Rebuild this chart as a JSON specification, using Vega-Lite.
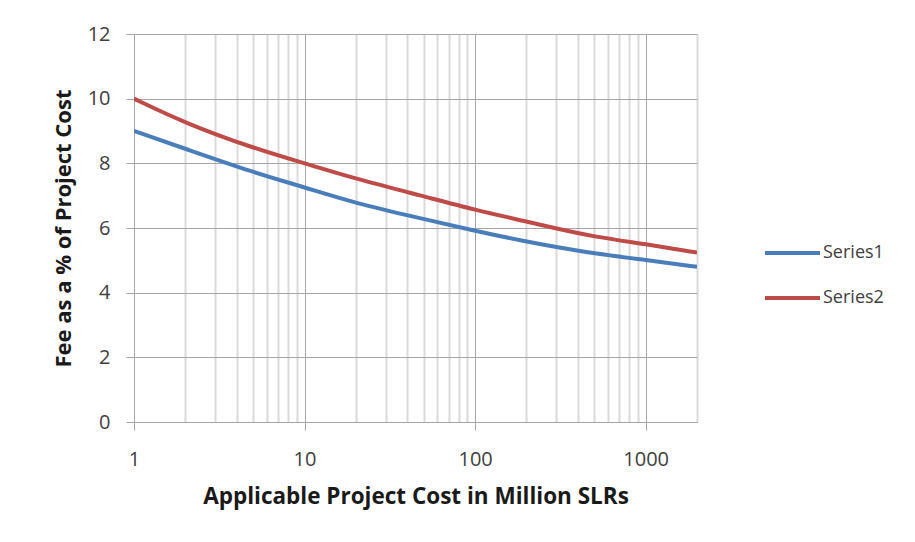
{
  "$schema": "https://vega.github.io/schema/vega-lite/v6.json",
  "width": 563,
  "height": 388,
  "autosize": {"type": "none"},
  "padding": {"left": 134, "top": 34, "right": 218, "bottom": 120},
  "background": "white",
  "config": {"view": {"stroke": null}, "font": "Open Sans"},
  "data": {
    "values": [
      {"cost": 1, "fee": 9.0, "series": "Series1"},
      {"cost": 2, "fee": 8.45, "series": "Series1"},
      {"cost": 5, "fee": 7.72, "series": "Series1"},
      {"cost": 10, "fee": 7.26, "series": "Series1"},
      {"cost": 20, "fee": 6.76, "series": "Series1"},
      {"cost": 50, "fee": 6.28, "series": "Series1"},
      {"cost": 100, "fee": 5.91, "series": "Series1"},
      {"cost": 200, "fee": 5.58, "series": "Series1"},
      {"cost": 300, "fee": 5.41, "series": "Series1"},
      {"cost": 500, "fee": 5.21, "series": "Series1"},
      {"cost": 1000, "fee": 5.01, "series": "Series1"},
      {"cost": 2000, "fee": 4.8, "series": "Series1"},
      {"cost": 1, "fee": 10.0, "series": "Series2"},
      {"cost": 2, "fee": 9.24, "series": "Series2"},
      {"cost": 5, "fee": 8.47, "series": "Series2"},
      {"cost": 10, "fee": 8.0, "series": "Series2"},
      {"cost": 20, "fee": 7.52, "series": "Series2"},
      {"cost": 50, "fee": 6.98, "series": "Series2"},
      {"cost": 100, "fee": 6.56, "series": "Series2"},
      {"cost": 200, "fee": 6.2, "series": "Series2"},
      {"cost": 300, "fee": 5.98, "series": "Series2"},
      {"cost": 500, "fee": 5.73, "series": "Series2"},
      {"cost": 1000, "fee": 5.5, "series": "Series2"},
      {"cost": 2000, "fee": 5.24, "series": "Series2"}
    ]
  },
  "mark": {"type": "line", "strokeWidth": 4, "interpolate": "basis", "clip": true},
  "encoding": {
    "x": {
      "field": "cost",
      "type": "quantitative",
      "scale": {"type": "log", "domain": [1, 2000], "nice": false},
      "axis": {
        "title": "Applicable Project Cost in Million SLRs",
        "values": [1, 2, 3, 4, 5, 6, 7, 8, 9, 10, 20, 30, 40, 50, 60, 70, 80, 90, 100, 200, 300, 400, 500, 600, 700, 800, 900, 1000, 2000],
        "labelExpr": "(datum.value == 1 || datum.value == 10 || datum.value == 100 || datum.value == 1000) ? toString(datum.value) : ''",
        "gridColor": {"condition": {"test": "datum.value == 1 || datum.value == 10 || datum.value == 100 || datum.value == 1000", "value": "#a6a6a6"}, "value": "#dadada"},
        "gridWidth": {"condition": {"test": "datum.value == 1 || datum.value == 10 || datum.value == 100 || datum.value == 1000", "value": 1}, "value": 2},
        "tickOpacity": {"condition": {"test": "datum.value == 1 || datum.value == 10 || datum.value == 100 || datum.value == 1000", "value": 1}, "value": 0},
        "tickColor": "#a6a6a6",
        "tickSize": 8,
        "domainColor": "#a6a6a6",
        "labelFontSize": 20,
        "labelColor": "#404040",
        "labelPadding": 19,
        "labelFlush": false,
        "labelOverlap": false,
        "titleFontSize": 22.5,
        "titleFontWeight": "bold",
        "titleColor": "#1a1a1a",
        "titlePadding": 16
      }
    },
    "y": {
      "field": "fee",
      "type": "quantitative",
      "scale": {"domain": [0, 12], "nice": false, "zero": true},
      "axis": {
        "title": "Fee as a % of Project Cost",
        "values": [0, 2, 4, 6, 8, 10, 12],
        "gridColor": "#a6a6a6",
        "tickColor": "#a6a6a6",
        "tickSize": 8,
        "domainColor": "#a6a6a6",
        "labelFontSize": 20,
        "labelColor": "#404040",
        "labelPadding": 16,
        "titleFontSize": 22,
        "titleFontWeight": "bold",
        "titleColor": "#1a1a1a",
        "titlePadding": 12
      }
    },
    "color": {
      "field": "series",
      "type": "nominal",
      "scale": {"domain": ["Series1", "Series2"], "range": ["#4A7EBB", "#BE4B48"]},
      "legend": {
        "title": null,
        "orient": "none",
        "legendX": 629,
        "legendY": 209,
        "symbolType": "stroke",
        "symbolSize": 3025,
        "symbolStrokeWidth": 4,
        "clipHeight": 20,
        "rowPadding": 25,
        "labelOffset": 1,
        "labelFontSize": 18,
        "labelColor": "#404040"
      }
    }
  }
}
